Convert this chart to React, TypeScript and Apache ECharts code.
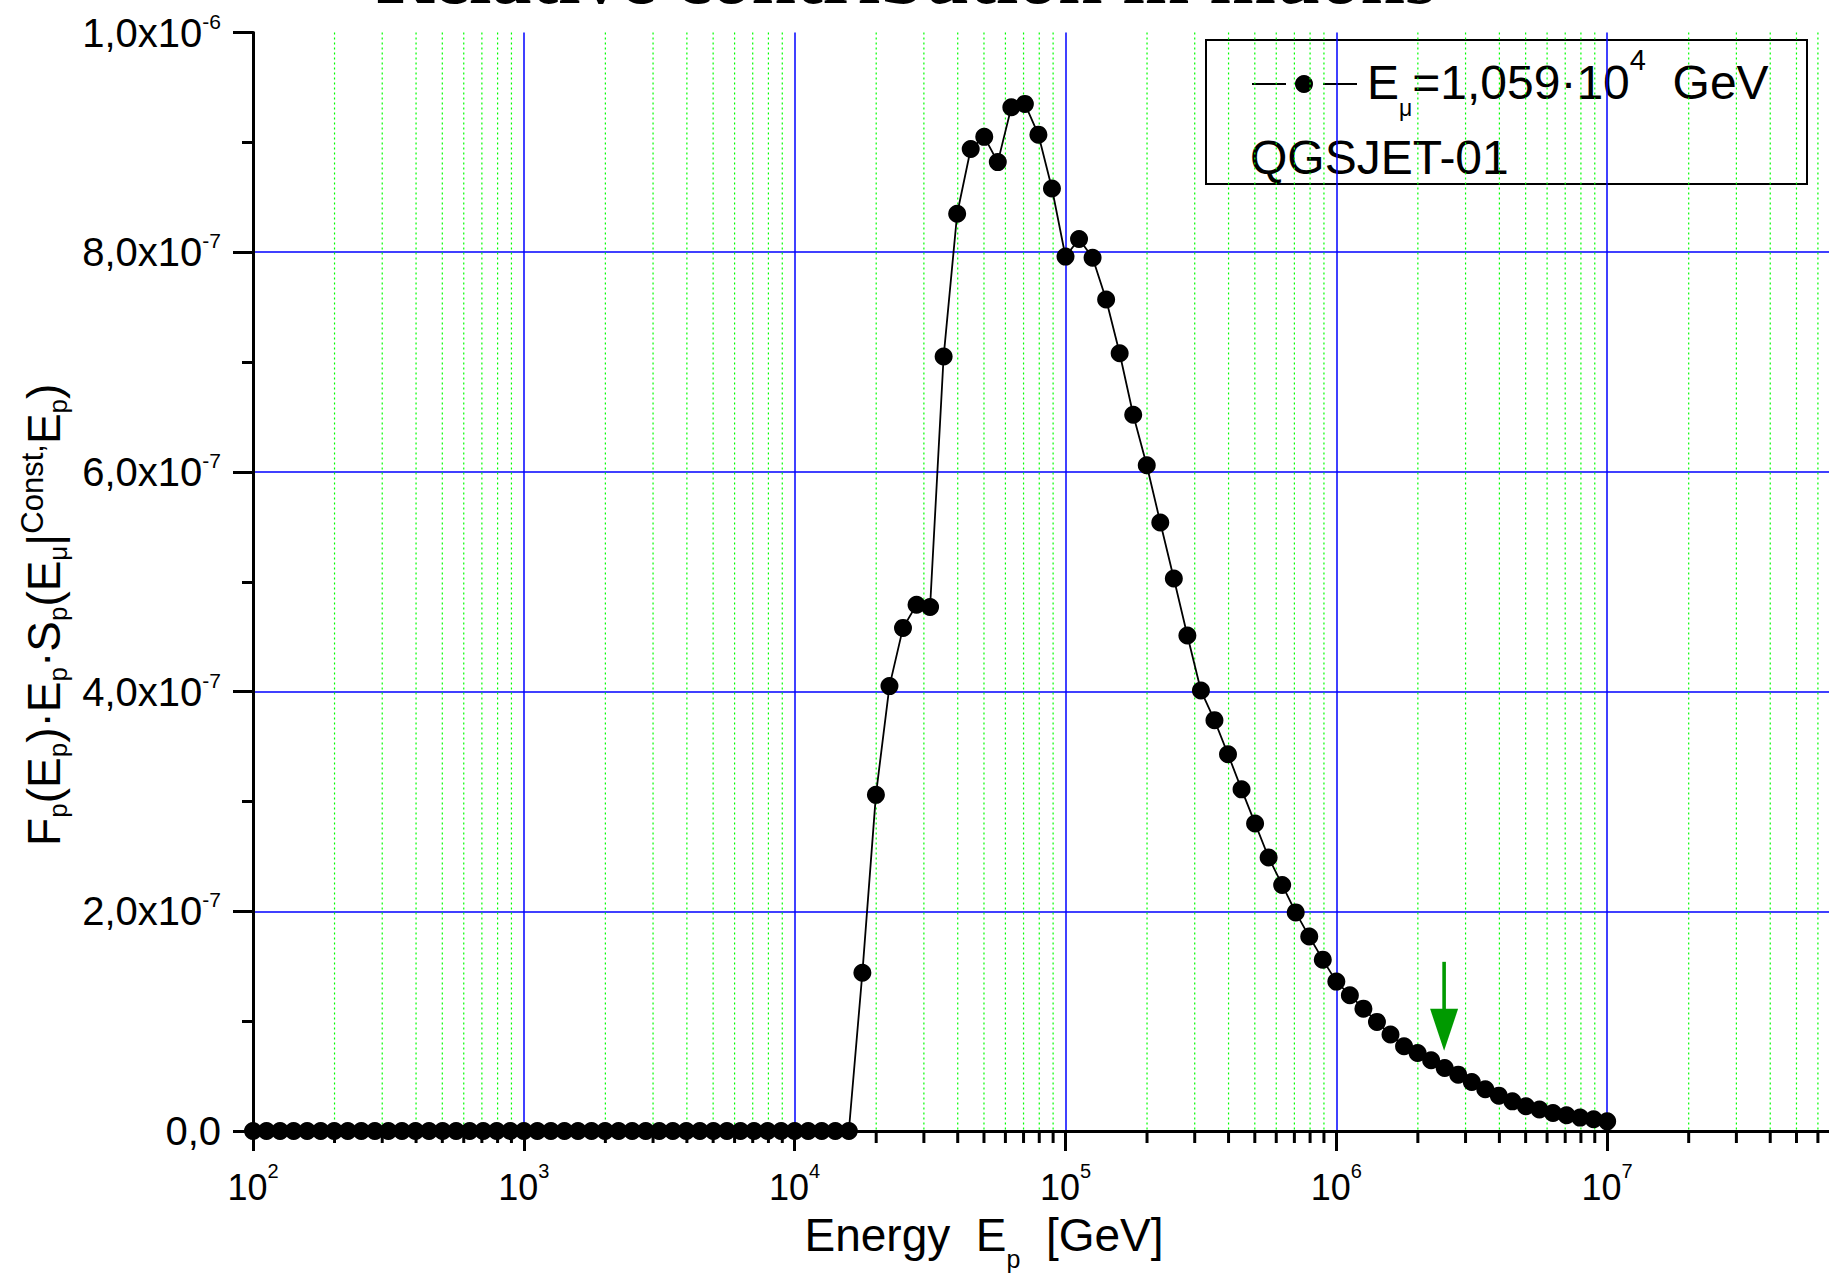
import React, { useEffect, useRef } from "react";
import * as echarts from "echarts";

// ---- data ----
// log10 of proton energy E_p [GeV] for every plotted point
const EXPONENTS = [
  2.0, 2.05, 2.1, 2.15, 2.2, 2.25, 2.3, 2.35, 2.4, 2.45,
  2.5, 2.55, 2.6, 2.65, 2.7, 2.75, 2.8, 2.85, 2.9, 2.95,
  3.0, 3.05, 3.1, 3.15, 3.2, 3.25, 3.3, 3.35, 3.4, 3.45,
  3.5, 3.55, 3.6, 3.65, 3.7, 3.75, 3.8, 3.85, 3.9, 3.95,
  4.0, 4.05, 4.1, 4.15, 4.2, 4.25, 4.3, 4.35, 4.4, 4.45,
  4.5, 4.55, 4.6, 4.65, 4.7, 4.75, 4.8, 4.85, 4.9, 4.95,
  5.0, 5.05, 5.1, 5.15, 5.2, 5.25, 5.3, 5.35, 5.4, 5.45,
  5.5, 5.55, 5.6, 5.65, 5.7, 5.75, 5.8, 5.85, 5.9, 5.95,
  6.0, 6.05, 6.1, 6.15, 6.2, 6.25, 6.3, 6.35, 6.4, 6.45,
  6.5, 6.55, 6.6, 6.65, 6.7, 6.75, 6.8, 6.85, 6.9, 6.95,
  7.0,
];

// F_p(E_p)·E_p·S_p(...) in units of 10^-7
const VALUES_E7 = [
  0, 0, 0, 0, 0, 0, 0, 0, 0, 0,
  0, 0, 0, 0, 0, 0, 0, 0, 0, 0,
  0, 0, 0, 0, 0, 0, 0, 0, 0, 0,
  0, 0, 0, 0, 0, 0, 0, 0, 0, 0,
  0, 0, 0, 0, 0, 1.44, 3.06, 4.05, 4.58, 4.79,
  4.77, 7.05, 8.35, 8.94, 9.05, 8.82, 9.32, 9.35, 9.07, 8.58,
  7.96, 8.12, 7.95, 7.57, 7.08, 6.52, 6.06, 5.54, 5.03, 4.51,
  4.01, 3.74, 3.43, 3.11, 2.8, 2.49, 2.24, 1.99, 1.77, 1.56,
  1.36, 1.236, 1.114, 0.993, 0.878, 0.771, 0.71, 0.644, 0.574, 0.513,
  0.446, 0.38, 0.322, 0.27, 0.225, 0.195, 0.164, 0.143, 0.122, 0.107,
  0.088,
];

const X_MIN = 1e2;
const X_MAX = 1e8;
const Y_MIN = 0;
const Y_MAX = 10;
const Y_INTERVAL = 2;

const Y_TICK_MANTISSA = ["0,0", "2,0x10", "4,0x10", "6,0x10", "8,0x10", "1,0x10"];
const Y_TICK_EXPONENT = ["", "-7", "-7", "-7", "-7", "-6"];

const DECADES = [1e2, 1e3, 1e4, 1e5, 1e6, 1e7];
const MINOR_MULTIPLIERS = [2, 3, 4, 5, 6, 7, 8, 9];

// green arrow marker (energy, top of shaft, tip) — y in units of 10^-7
const ARROW = [2.5e6, 1.54, 0.73];

const TITLE = "Relative contribution in muons";
const LEGEND_LABEL = "{m|E}{sub|μ}{m|=1,059·10}{sup|4}{m|  GeV}";
const LEGEND_MODEL = "QGSJET-01";

const FONT = '"Liberation Sans", Arial, Helvetica, sans-serif';

export default function App() {
  const ref = useRef<HTMLDivElement>(null);

  useEffect(() => {
    if (!ref.current) return;
    const chart = echarts.init(ref.current, null, { renderer: "svg" });

    const lineData = EXPONENTS.map((e, i) => [Math.pow(10, e), VALUES_E7[i]]);
    const minorTicks: number[][] = [];
    DECADES.forEach((d) => MINOR_MULTIPLIERS.forEach((m) => minorTicks.push([d * m, 0])));

    const option: any = {
      animation: false,
      backgroundColor: "#ffffff",
      textStyle: { fontFamily: FONT, color: "#000" },
      grid: {
        left: 253,
        right: 22,
        top: 32.5,
        bottom: 144,
        containLabel: false,
        outerBoundsMode: "none",
      },
      xAxis: {
        type: "log",
        logBase: 10,
        min: X_MIN,
        max: X_MAX,
        splitNumber: 6,
        name: "{m|Energy  E}{s|p}{m|  [GeV]}",
        nameLocation: "middle",
        nameGap: 68,
        nameTextStyle: {
          color: "#000",
          padding: [0, 163, 0, 0],
          rich: {
            m: { fontSize: 46, fontFamily: FONT, color: "#000", lineHeight: 72 },
            s: { fontSize: 25, fontFamily: FONT, color: "#000", lineHeight: 14, verticalAlign: "bottom" },
          },
        },
        axisLine: { show: true, onZero: false, lineStyle: { color: "#000", width: 3 } },
        axisTick: { show: true, inside: false, length: 20, lineStyle: { color: "#000", width: 3 } },
        axisLabel: {
          show: true,
          showMaxLabel: false,
          margin: 30,
          color: "#000",
          formatter: (v: number) => `{m|10}{s|${Math.round(Math.log10(v))}}`,
          rich: {
            m: { fontSize: 36, fontFamily: FONT, color: "#000", lineHeight: 52 },
            s: { fontSize: 20, fontFamily: FONT, color: "#000", lineHeight: 20, verticalAlign: "top" },
          },
        },
        splitLine: { show: true, lineStyle: { color: "#0000ff", width: 1.5 } },
      },
      yAxis: {
        type: "value",
        min: Y_MIN,
        max: Y_MAX,
        interval: Y_INTERVAL,
        name:
          "{m|F}{s|p}{m|(E}{s|p}{m|)·E}{s|p}{m|·S}{s|p}{m|(E}{s|μ}{m||}{c|Const}{c|,}{m|E}{s|p}{m|)}",
        nameLocation: "middle",
        nameRotate: 90,
        nameGap: 163,
        nameTextStyle: {
          color: "#000",
          padding: [0, 66, 0, 0],
          rich: {
            m: { fontSize: 46, fontFamily: FONT, color: "#000", lineHeight: 54 },
            s: { fontSize: 26, fontFamily: FONT, color: "#000", lineHeight: 42, verticalAlign: "bottom" },
            c: { fontSize: 31, fontFamily: FONT, color: "#000", lineHeight: 48, verticalAlign: "top" },
          },
        },
        axisLine: { show: true, onZero: false, lineStyle: { color: "#000", width: 3 } },
        axisTick: { show: true, inside: false, length: 20, lineStyle: { color: "#000", width: 3 } },
        minorTick: { show: true, splitNumber: 2, length: 11, lineStyle: { color: "#000", width: 3 } },
        axisLabel: {
          show: true,
          margin: 32,
          color: "#000",
          formatter: (v: number) => {
            const i = Math.round(v / Y_INTERVAL);
            const m = Y_TICK_MANTISSA[i] ?? "";
            const e = Y_TICK_EXPONENT[i] ?? "";
            return e ? `{m|${m}}{s|${e}}` : `{m|${m}}`;
          },
          rich: {
            m: { fontSize: 40, fontFamily: FONT, color: "#000", lineHeight: 44 },
            s: { fontSize: 21, fontFamily: FONT, color: "#000", lineHeight: 20, verticalAlign: "top" },
          },
        },
        splitLine: {
          show: true,
          showMinLine: false,
          showMaxLine: false,
          lineStyle: { color: "#0000ff", width: 1.5 },
        },
        minorSplitLine: { show: false },
      },
      series: [
        {
          type: "custom",
          name: "minor grid",
          silent: true,
          clip: false,
          z: 1,
          data: minorTicks,
          encode: { x: 0, y: 1 },
          renderItem: (_params: any, api: any) => {
            const v = api.value(0);
            const top = api.coord([v, Y_MAX]);
            const bot = api.coord([v, Y_MIN]);
            return {
              type: "group",
              children: [
                {
                  type: "line",
                  shape: { x1: top[0], y1: top[1], x2: bot[0], y2: bot[1] },
                  style: { stroke: "#00ff00", lineWidth: 1.2, lineDash: [2, 3] },
                },
                {
                  type: "line",
                  shape: { x1: bot[0], y1: bot[1], x2: bot[0], y2: bot[1] + 12 },
                  style: { stroke: "#000", lineWidth: 3 },
                },
              ],
            };
          },
        },
        {
          type: "line",
          name: "E_mu",
          data: lineData,
          symbol: "circle",
          symbolSize: 18,
          showSymbol: true,
          clip: false,
          z: 3,
          lineStyle: { color: "#000", width: 1.8 },
          itemStyle: { color: "#000" },
        },
        {
          type: "custom",
          name: "arrow",
          silent: true,
          clip: false,
          z: 4,
          data: [ARROW],
          encode: { x: 0, y: [1, 2] },
          renderItem: (_params: any, api: any) => {
            const e = api.value(0);
            const p1 = api.coord([e, api.value(1)]);
            const p2 = api.coord([e, api.value(2)]);
            const headLen = 42;
            const headHalf = 14;
            return {
              type: "group",
              children: [
                {
                  type: "rect",
                  shape: { x: p1[0] - 1.8, y: p1[1], width: 3.6, height: p2[1] - headLen - p1[1] + 1 },
                  style: { fill: "#009a00" },
                },
                {
                  type: "polygon",
                  shape: {
                    points: [
                      [p2[0] - headHalf, p2[1] - headLen],
                      [p2[0] + headHalf, p2[1] - headLen],
                      [p2[0], p2[1]],
                    ],
                  },
                  style: { fill: "#009a00" },
                },
              ],
            };
          },
        },
      ],
      graphic: [
        {
          type: "text",
          x: 376,
          y: -24,
          z: 50,
          silent: true,
          style: {
            text: TITLE,
            font: 'bold 80px "Liberation Serif", "Times New Roman", serif',
            fill: "#000",
            verticalAlign: "middle",
            align: "left",
          },
        },
        {
          type: "group",
          z: 100,
          silent: true,
          children: [
            {
              type: "rect",
              shape: { x: 1206, y: 40, width: 601, height: 144 },
              style: { fill: "#fff", stroke: "#000", lineWidth: 2 },
            },
            {
              type: "line",
              shape: { x1: 1252, y1: 84, x2: 1286, y2: 84 },
              style: { stroke: "#000", lineWidth: 2 },
            },
            {
              type: "circle",
              shape: { cx: 1304, cy: 84, r: 9 },
              style: { fill: "#000" },
            },
            {
              type: "line",
              shape: { x1: 1323, y1: 84, x2: 1357, y2: 84 },
              style: { stroke: "#000", lineWidth: 2 },
            },
            {
              type: "text",
              x: 1367,
              y: 82.5,
              style: {
                text: LEGEND_LABEL,
                verticalAlign: "middle",
                align: "left",
                rich: {
                  m: { fontSize: 48, fontFamily: FONT, fill: "#000", lineHeight: 74 },
                  sub: { fontSize: 23, fontFamily: FONT, fill: "#000", lineHeight: 14, verticalAlign: "bottom" },
                  sup: { fontSize: 29, fontFamily: FONT, fill: "#000", lineHeight: 38, verticalAlign: "top" },
                },
              },
            },
            {
              type: "text",
              x: 1250,
              y: 157,
              style: {
                text: LEGEND_MODEL,
                fontSize: 48,
                fontFamily: FONT,
                fill: "#000",
                verticalAlign: "middle",
                align: "left",
              },
            },
          ],
        },
      ],
    };

    chart.setOption(option);
    return () => chart.dispose();
  }, []);

  return (
    <div
      style={{
        position: "fixed",
        left: 0,
        top: 0,
        width: 1829,
        height: 1275,
        overflow: "hidden",
        background: "#fff",
      }}
    >
      <div ref={ref} style={{ width: 1900, height: 1275 }} />
    </div>
  );
}
